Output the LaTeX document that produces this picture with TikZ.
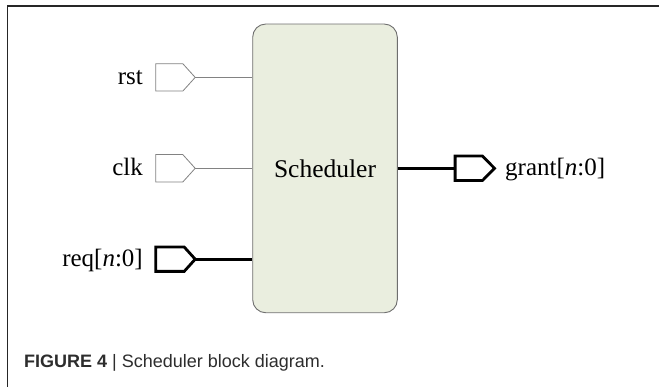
\documentclass[tikz,border=0pt]{standalone}
\usepackage{fontspec}
\setmainfont{Liberation Serif}
\newfontfamily\capfont{Liberation Sans}
\definecolor{blockfill}{RGB}{234,238,223}
\definecolor{blockdraw}{RGB}{110,110,110}
\definecolor{thinport}{RGB}{130,130,130}
\definecolor{captxt}{RGB}{45,45,45}
\begin{document}
\begin{tikzpicture}[x=1pt,y=-1pt,
  lbl/.style={inner sep=0pt,font=\fontsize{25}{28}\selectfont},
  portbox/.style={inner sep=0pt,minimum width=39pt,minimum height=#1},
  thinln/.style={draw=thinport,line width=0.8pt},
  thickln/.style={draw=black,line width=2.8pt,line join=miter},
  block/.style={draw=blockdraw,fill=blockfill,line width=0.9pt,rounded corners=13pt,
    minimum width=144.6pt,minimum height=288.7pt,inner sep=0pt,
    font=\fontsize{25.5}{28}\selectfont}
]
\useasboundingbox (0,0) rectangle (659,387);
% frame
\coordinate (fa) at (7.3,387);
\coordinate (fb) at (7.3,6);
\coordinate (fc) at (659,6);
\draw[line width=1.4pt,black!85] (fa) -- (fb) -- (fc);

% scheduler block
\node[block] (sched) at (325,168.4) {Scheduler};

% ports
\node[portbox=27pt] (rstp) at (175.5,77.4) {};
\node[portbox=27pt] (clkp) at (175.5,168.3) {};
\node[portbox=24pt] (reqp) at (175.5,259.2) {};
\node[portbox=24pt] (grantp) at (474.8,168.3) {};

\draw[thinln,fill=white] (rstp.north west) -- ([xshift=-12.4pt]rstp.north east) -- (rstp.east)
  -- ([xshift=-12.4pt]rstp.south east) -- (rstp.south west) -- cycle;
\draw[thinln,fill=white] (clkp.north west) -- ([xshift=-12.4pt]clkp.north east) -- (clkp.east)
  -- ([xshift=-12.4pt]clkp.south east) -- (clkp.south west) -- cycle;
\draw[thickln,fill=white] (reqp.north west) -- ([xshift=-11pt]reqp.north east) -- (reqp.east)
  -- ([xshift=-11pt]reqp.south east) -- (reqp.south west) -- cycle;
\draw[thickln,fill=white] (grantp.north west) -- ([xshift=-12pt]grantp.north east) -- (grantp.east)
  -- ([xshift=-12pt]grantp.south east) -- (grantp.south west) -- cycle;

% connectors
\draw[thinln] (rstp.east) -- (rstp.east -| sched.west);
\draw[thinln] (clkp.east) -- (clkp.east -| sched.west);
\draw[thickln] (reqp.east) -- (reqp.east -| sched.west);
\draw[thickln] (grantp.west -| sched.east) -- (grantp.west);

% labels
\node[lbl,anchor=base east] (rstl) at (143,85) {rst};
\node[lbl,anchor=base east] (clkl) at (143,176) {clk};
\node[lbl,anchor=base east] (reql) at (143,267) {req[\textit{n}:0]};
\node[lbl,anchor=base west] (grantl) at (505,175.5) {grant[\textit{n}:0]};

% caption
\node[anchor=base west,inner sep=0pt,text=captxt,font=\capfont\fontsize{18}{20}\selectfont] (cap) at (24,368)
  {\textbf{FIGURE 4} | Scheduler block diagram.};
\end{tikzpicture}
\end{document}
